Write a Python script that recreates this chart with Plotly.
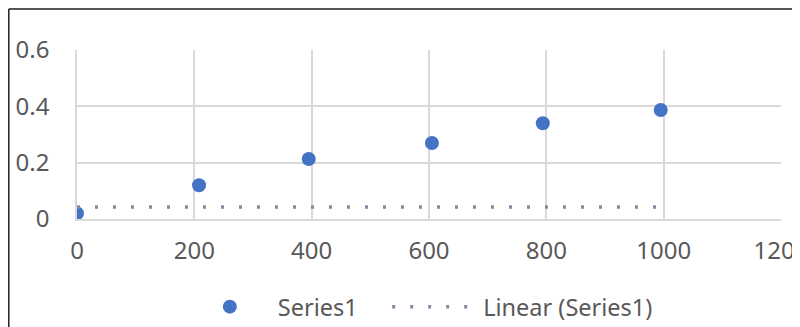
import plotly.graph_objects as go

x_vals = [0, 208, 395, 605, 794, 995]
y_vals = [0.02, 0.12, 0.213, 0.27, 0.34, 0.387]
trend_x = [0, 1000]
trend_y = [0.043, 0.043]
x_ticks = [0, 200, 400, 600, 800, 1000, 1200]
y_ticks = [0, 0.2, 0.4, 0.6]

FONT = "Noto Sans"
GRAY = "#595959"
NB = "\u00a0"

fig = go.Figure()
fig.add_trace(go.Scatter(
    x=x_vals, y=y_vals, mode="markers", name="Series1" + NB * 4,
    marker=dict(color="#4472C4", size=14),
))
fig.add_trace(go.Scatter(
    x=trend_x, y=trend_y, mode="lines", name="Linear (Series1)",
    line=dict(color="#7F8CA3", width=3.5, dash="3px,15px"),
))

# page body has an 8px margin, so the figure is drawn 8px smaller and shifted
fig.update_layout(
    width=792, height=319,
    margin=dict(l=69, r=19, t=42, b=108, autoexpand=False),
    paper_bgcolor="white", plot_bgcolor="white",
    font=dict(family=FONT, size=24, color=GRAY),
    showlegend=True,
    legend=dict(orientation="h", x=0.487, xanchor="center", y=-0.52, yanchor="middle",
                font=dict(family=FONT, size=23.5, color=GRAY), itemwidth=86,
                traceorder="normal"),
    xaxis=dict(range=[0, 1200], tickvals=x_ticks, showgrid=True, gridcolor="#D9D9D9",
               gridwidth=1.5, zeroline=False, showline=True, linecolor="#D9D9D9", linewidth=1.5,
               ticks="", ticklabelstandoff=9, automargin=False, ticklabeloverflow="allow"),
    yaxis=dict(range=[0, 0.6], tickvals=y_ticks, showgrid=True, gridcolor="#D9D9D9",
               gridwidth=1.5, zeroline=False, showline=True, linecolor="#D9D9D9", linewidth=1.5,
               ticks="", ticklabelstandoff=21, automargin=False),
    shapes=[
        dict(type="line", xref="paper", yref="paper", x0=-0.0969, x1=1.05, y0=1.2426, y1=1.2426,
             line=dict(color="#555555", width=2)),
        dict(type="line", xref="paper", yref="paper", x0=-0.0969, x1=-0.0969, y0=1.2426, y1=-0.65,
             line=dict(color="#222222", width=1.5)),
    ],
)

fig.write_html("out.html")
